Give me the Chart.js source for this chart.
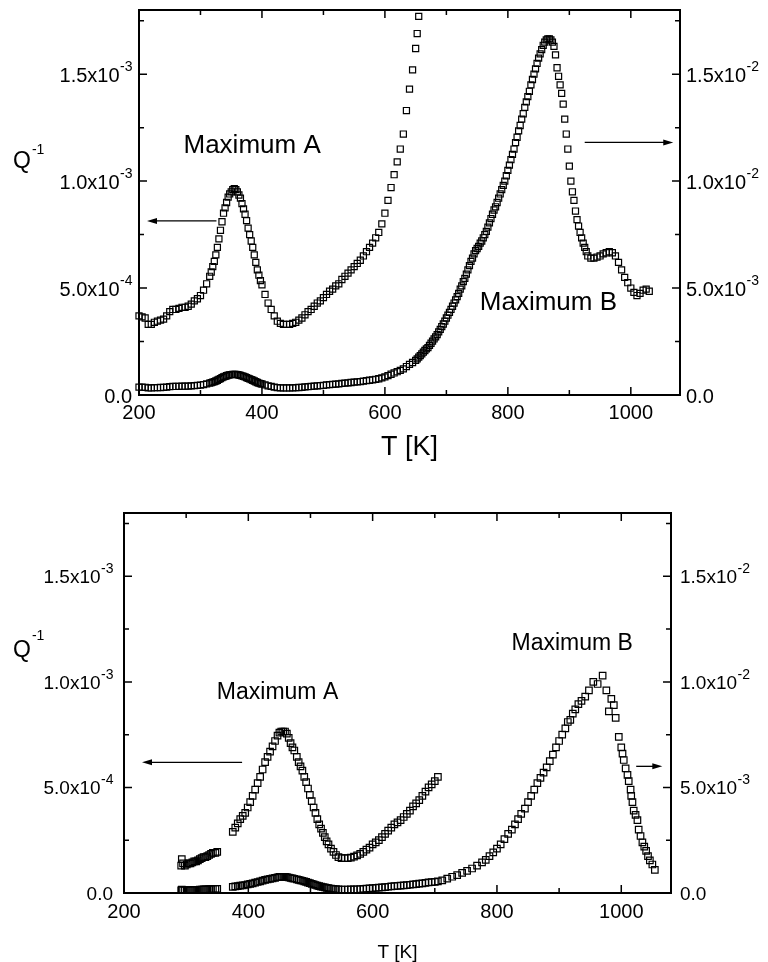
<!doctype html>
<html>
<head>
<title>Internal friction Q-1 versus temperature</title>
<script src="https://cdn.jsdelivr.net/npm/chart.js@4.4.0/dist/chart.umd.min.js"></script>
<style>
body { margin: 0; background: #fff; overflow: hidden; }
.panel { position: absolute; left: 0; }
#topPanel { top: 0; }
#bottomPanel { top: 480px; }
</style>
</head>
<body>
<div class="panel" id="topPanel"><canvas id="chartTop" width="768" height="475"></canvas></div>
<div class="panel" id="bottomPanel"><canvas id="chartBottom" width="768" height="482"></canvas></div>
<script>
// Temperatures in K, damping Q^-1 in units of 1e-3
var tempsTop = [
	200, 205, 210, 215, 220, 225, 230, 235, 240, 245, 250, 255, 260, 265, 270, 275, 280, 285, 290, 295,
	300, 305, 310, 315, 317.5, 320, 322.5, 325, 327.5, 330, 332.5, 335, 337.5, 340, 342.5, 345, 347.5, 350,
	352.5, 355, 357.5, 360, 362.5, 365, 367.5, 370, 372.5, 375, 377.5, 380, 382.5, 385, 387.5, 390, 392.5,
	395, 397.5, 400, 405, 410, 415, 420, 425, 430, 435, 440, 445, 450, 455, 460, 465, 470, 475, 480, 485,
	490, 495, 500, 505, 510, 515, 520, 525, 530, 535, 540, 545, 550, 555, 560, 565, 570, 575, 580, 585,
	590, 595, 600, 605, 610, 615, 620, 625, 630, 635, 640, 645, 650, 652.5, 655, 657.5, 660, 662.5, 665,
	667.5, 670, 672.5, 675, 677.5, 680, 682.5, 685, 687.5, 690, 692.5, 695, 697.5, 700, 702.5, 705, 707.5,
	710, 712.5, 715, 717.5, 720, 722.5, 725, 727.5, 730, 732.5, 735, 737.5, 740, 742.5, 745, 747.5, 750,
	752.5, 755, 757.5, 760, 762.5, 765, 767.5, 770, 772.5, 775, 777.5, 780, 782.5, 785, 787.5, 790, 792.5,
	795, 797.5, 800, 802.5, 805, 807.5, 810, 812.5, 815, 817.5, 820, 822.5, 825, 827.5, 830, 832.5, 835,
	837.5, 840, 842.5, 845, 847.5, 850, 852.5, 855, 857.5, 860, 862.5, 865, 867.5, 870, 872.5, 875, 877.5,
	880, 882.5, 885, 887.5, 890, 892.5, 895, 897.5, 900, 902.5, 905, 907.5, 910, 912.5, 915, 917.5, 920,
	922.5, 925, 927.5, 930, 935, 940, 945, 950, 955, 960, 965, 970, 975, 980, 985, 990, 995, 1000, 1005,
	1010, 1015, 1020, 1025, 1030
];
var qTop = [
	0.37, 0.365, 0.36, 0.33, 0.33, 0.34, 0.345, 0.35, 0.355, 0.37, 0.39, 0.40, 0.40, 0.405, 0.41, 0.41, 0.415, 0.425, 0.44, 0.45,
	0.465, 0.49, 0.52, 0.555, 0.575, 0.60, 0.625, 0.655, 0.69, 0.73, 0.77, 0.81, 0.85, 0.875, 0.90, 0.925, 0.94, 0.95,
	0.96, 0.965, 0.96, 0.95, 0.935, 0.92, 0.895, 0.87, 0.845, 0.815, 0.78, 0.75, 0.72, 0.69, 0.655, 0.62, 0.585,
	0.56, 0.535, 0.515, 0.47, 0.43, 0.40, 0.37, 0.345, 0.335, 0.33, 0.33, 0.33, 0.335, 0.34, 0.35, 0.36, 0.375, 0.39, 0.40, 0.415,
	0.43, 0.44, 0.455, 0.47, 0.485, 0.495, 0.51, 0.52, 0.54, 0.555, 0.57, 0.585, 0.60, 0.615, 0.63, 0.65, 0.67, 0.69, 0.71, 0.735,
	0.76, 0.80, 0.85, 0.91, 0.97, 1.03, 1.09, 1.15, 1.22, 1.33, 1.43, 1.52, 1.62, 1.69, 1.77, 1.84, 1.92, 2.0, 2.08,
	2.16, 2.22, 2.32, 2.42, 2.52, 2.62, 2.72, 2.82, 2.95, 3.07, 3.2, 3.32, 3.45, 3.6, 3.73, 3.86, 4.0,
	4.15, 4.3, 4.45, 4.6, 4.75, 4.95, 5.1, 5.3, 5.45, 5.65, 5.85, 6.05, 6.25, 6.4, 6.6, 6.75, 6.85,
	6.95, 7.1, 7.2, 7.35, 7.5, 7.65, 7.85, 8.05, 8.25, 8.45, 8.65, 8.8, 9.0, 9.2, 9.4, 9.6, 9.8,
	10.0, 10.25, 10.5, 10.75, 11.0, 11.25, 11.5, 11.8, 12.05, 12.35, 12.6, 12.9, 13.15, 13.45, 13.7, 13.95, 14.2,
	14.5, 14.75, 15.0, 15.25, 15.5, 15.75, 15.95, 16.15, 16.35, 16.5, 16.6, 16.65, 16.65, 16.6, 16.5, 16.3, 15.9,
	15.3, 14.9, 14.5, 14.1, 13.6, 12.9, 12.2, 11.5, 10.7, 10.0, 9.5, 9.1, 8.6, 8.2, 7.9, 7.6, 7.35,
	7.1, 6.9, 6.7, 6.5, 6.4, 6.4, 6.45, 6.5, 6.6, 6.65, 6.7, 6.65, 6.5, 6.2, 5.85, 5.5, 5.25, 5.0, 4.8,
	4.65, 4.75, 4.9, 4.95, 4.85
];

var tempsBottom = [
	292, 293, 295, 298, 301, 304, 307, 310, 313, 316, 319, 322, 325, 328, 331, 334, 337, 340, 343, 347, 350,
	375, 379, 383, 387, 391, 395, 399, 403, 407, 411, 415, 419, 423, 427, 431, 435, 439, 443, 447, 450, 453,
	456, 459, 462, 465, 468, 471, 474, 478, 481, 484, 487, 490, 493, 496, 499, 502, 505, 508, 511, 514, 517,
	520, 523, 526, 529, 533, 537, 541, 545, 550, 555, 560, 565, 570, 575, 580, 585, 590, 595, 600, 605, 610,
	615, 620, 625, 630, 635, 640, 645, 650, 655, 660, 665, 670, 675, 680, 685, 690, 695, 700, 705,
	712, 720, 728, 736, 744, 752, 760, 768, 776, 782, 788, 794, 800, 806, 812, 818, 824, 829, 834, 839, 845,
	850, 855, 860, 865, 870, 875, 880, 885, 890, 895, 900, 905, 910, 914, 918, 922, 926, 931, 936, 942, 948,
	955, 962, 970, 976, 980, 984, 988, 991, 996, 1000, 1002, 1004, 1007, 1010, 1012, 1015, 1016, 1018, 1020,
	1023, 1026, 1028, 1031, 1034, 1037, 1040, 1043, 1046, 1050, 1054
];
var qBottom = [
	0.13, 0.16, 0.14, 0.13, 0.135, 0.14, 0.14, 0.145, 0.15, 0.15, 0.155, 0.16, 0.165, 0.17, 0.17, 0.175, 0.18, 0.185, 0.19, 0.19, 0.195,
	0.29, 0.31, 0.33, 0.35, 0.365, 0.38, 0.405, 0.43, 0.46, 0.49, 0.52, 0.55, 0.585, 0.62, 0.645, 0.67, 0.695, 0.72, 0.745, 0.76, 0.765,
	0.765, 0.765, 0.755, 0.735, 0.71, 0.69, 0.675, 0.645, 0.62, 0.60, 0.58, 0.55, 0.525, 0.495, 0.465, 0.435, 0.405, 0.38, 0.35, 0.325, 0.305,
	0.285, 0.265, 0.245, 0.23, 0.21, 0.195, 0.18, 0.17, 0.165, 0.165, 0.165, 0.168, 0.172, 0.178, 0.185, 0.195, 0.205, 0.215, 0.23, 0.24, 0.25,
	0.265, 0.28, 0.295, 0.31, 0.325, 0.335, 0.345, 0.36, 0.375, 0.39, 0.41, 0.425, 0.44, 0.46, 0.48, 0.50, 0.515, 0.53, 0.55,
	0.60, 0.68, 0.77, 0.85, 0.95, 1.05, 1.16, 1.3, 1.45, 1.57, 1.75, 1.92, 2.1, 2.3, 2.55, 2.8, 3.0, 3.25, 3.5, 3.75, 4.0,
	4.3, 4.6, 4.9, 5.2, 5.45, 5.7, 5.95, 6.25, 6.55, 6.9, 7.2, 7.5, 7.8, 8.1, 8.2, 8.5, 8.7, 8.95, 9.1, 9.3, 9.6,
	10.0, 9.9, 10.3, 9.6, 8.6, 9.2, 8.9, 8.3, 7.4, 6.9, 6.6, 6.3, 5.9, 5.6, 5.3, 4.9, 4.6, 4.3, 3.9,
	3.7, 3.45, 3.0, 2.7, 2.4, 2.2, 2.0, 1.75, 1.55, 1.35, 1.1
];

// the left-axis copy of the lower run is shown only up to this temperature
var bottomLeftLimit = 705;

var FONT = '"Liberation Sans", Arial, Helvetica, sans-serif';

function toPoints(temps, q, limit) {
	var pts = [];
	for (var i = 0; i < temps.length; i++) {
		if (temps[i] <= limit) {
			pts.push({x: temps[i], y: q[i]});
		}
	}
	return pts;
}

// tick positions at half steps, every second one major
function tickMarks(scale) {
	var half = scale.options.ticks.stepSize / 2;
	var out = [];
	var n0 = Math.ceil(scale.min / half - 1e-9);
	var n1 = Math.floor(scale.max / half + 1e-9);
	for (var n = n0; n <= n1; n++) {
		out.push({v: n * half, major: n % 2 === 0});
	}
	return out;
}

// 0.0015 -> ['1.5x10', '-3']
function sciParts(real) {
	if (Math.abs(real) < 1e-12) {
		return ['0.0', ''];
	}
	var e = Math.floor(Math.log10(real) + 1e-9);
	var m = real / Math.pow(10, e);
	return [m.toFixed(1) + 'x10', String(e)];
}

function drawArrow(ctx, x1, x2, y) {
	var dir = x2 > x1 ? 1 : -1;
	ctx.beginPath();
	ctx.lineWidth = 1.3;
	ctx.moveTo(x1, y);
	ctx.lineTo(x2 - dir * 6, y);
	ctx.stroke();
	ctx.beginPath();
	ctx.moveTo(x2, y);
	ctx.lineTo(x2 - dir * 10, y - 3);
	ctx.lineTo(x2 - dir * 10, y + 3);
	ctx.closePath();
	ctx.fill();
}

var framePlugin = {
	id: 'frame',
	afterDraw: function(chart) {
		var o = chart.options.plugins.frame;
		var ctx = chart.ctx;
		var a = chart.chartArea;
		var xs = chart.scales.x, yL = chart.scales.yL, yR = chart.scales.yR;

		ctx.save();
		ctx.strokeStyle = '#000';
		ctx.fillStyle = '#000';

		// box and inward ticks
		ctx.lineWidth = 2;
		ctx.strokeRect(a.left, a.top, a.right - a.left, a.bottom - a.top);
		ctx.lineWidth = 1.5;
		ctx.beginPath();
		tickMarks(xs).forEach(function(t) {
			var p = xs.getPixelForValue(t.v);
			var len = t.major ? 8 : 5;
			ctx.moveTo(p, a.bottom);
			ctx.lineTo(p, a.bottom - len);
			ctx.moveTo(p, a.top);
			ctx.lineTo(p, a.top + len);
		});
		tickMarks(yL).forEach(function(t) {
			var p = yL.getPixelForValue(t.v);
			ctx.moveTo(a.left, p);
			ctx.lineTo(a.left + (t.major ? 8 : 5), p);
		});
		tickMarks(yR).forEach(function(t) {
			var p = yR.getPixelForValue(t.v);
			ctx.moveTo(a.right, p);
			ctx.lineTo(a.right - (t.major ? 8 : 5), p);
		});
		ctx.stroke();

		// y tick labels with raised exponents
		var mainFont = o.labelSize + 'px ' + FONT;
		var supFont = o.supSize + 'px ' + FONT;
		ctx.textBaseline = 'alphabetic';
		ctx.textAlign = 'left';
		[[yL, 'left'], [yR, 'right']].forEach(function(pair) {
			var scale = pair[0];
			tickMarks(scale).forEach(function(t) {
				if (!t.major) return;
				var parts = sciParts(t.v * 1e-3);
				var p = scale.getPixelForValue(t.v);
				ctx.font = mainFont;
				var w1 = ctx.measureText(parts[0]).width;
				ctx.font = supFont;
				var w2 = ctx.measureText(parts[1]).width;
				var x0 = pair[1] === 'left' ? a.left - o.gapLeft - w1 - w2 : a.right + o.gapRight;
				ctx.font = mainFont;
				ctx.fillText(parts[0], x0, p + o.mainDy);
				if (parts[1]) {
					ctx.font = supFont;
					ctx.fillText(parts[1], x0 + w1 + 0.5, p + o.supDy);
				}
			});
		});

		// Q^-1 axis name
		ctx.font = o.qSize + 'px ' + FONT;
		ctx.fillText('Q', o.qX, o.qBase);
		var qw = ctx.measureText('Q').width;
		ctx.font = o.qSupSize + 'px ' + FONT;
		ctx.fillText('-1', o.qX + qw + 1, o.qSupBase);

		// peak names and arrows pointing to the matching axis
		ctx.textAlign = 'center';
		ctx.textBaseline = 'middle';
		o.notes.forEach(function(n) {
			ctx.font = n.size + 'px ' + FONT;
			ctx.fillText(n.text, xs.getPixelForValue(n.x), yL.getPixelForValue(n.y));
		});
		o.arrows.forEach(function(ar) {
			drawArrow(ctx, xs.getPixelForValue(ar.from), xs.getPixelForValue(ar.to), yL.getPixelForValue(ar.y));
		});
		ctx.restore();
	}
};

function createConfig(c) {
	var marker = {
		type: 'scatter',
		showLine: false,
		pointStyle: 'rect',
		pointRadius: c.radius,
		pointHoverRadius: c.radius,
		borderColor: '#000',
		backgroundColor: 'rgba(255,255,255,0)',
		pointBorderWidth: 1.2,
		clip: 4
	};
	return {
		type: 'scatter',
		data: {
			datasets: [
				Object.assign({label: 'Q-1, left scale', yAxisID: 'yL', data: toPoints(c.temps, c.q, c.leftLimit)}, marker),
				Object.assign({label: 'Q-1, right scale', yAxisID: 'yR', data: toPoints(c.temps, c.q, Infinity)}, marker)
			]
		},
		options: {
			responsive: false,
			animation: false,
			events: [],
			layout: {padding: {top: c.padTop, left: 0, right: 0, bottom: 0}},
			plugins: {
				legend: {display: false},
				tooltip: {enabled: false},
				frame: c.frame
			},
			scales: {
				x: {
					type: 'linear',
					position: 'bottom',
					min: 200,
					max: 1080,
					afterFit: function(s) { s.height = c.xHeight; },
					grid: {display: false, drawTicks: false, tickLength: 0},
					border: {display: false},
					ticks: {
						stepSize: 200,
						includeBounds: false,
						padding: c.xTickPad,
						color: '#000',
						maxRotation: 0,
						autoSkip: false,
						font: {family: FONT, size: 20},
						callback: function(v) { return v % 200 === 0 ? String(v) : ''; }
					},
					title: {
						display: true,
						text: 'T [K]',
						color: '#000',
						font: {family: FONT, size: c.titleSize, lineHeight: 1},
						padding: {top: 0, bottom: c.titlePad}
					}
				},
				yL: {
					type: 'linear',
					position: 'left',
					min: 0,
					max: 1.8,
					afterFit: function(s) { s.width = c.leftWidth; },
					grid: {display: false},
					border: {display: false},
					ticks: {display: false, stepSize: 0.5}
				},
				yR: {
					type: 'linear',
					position: 'right',
					min: 0,
					max: 18,
					afterFit: function(s) { s.width = c.rightWidth; },
					grid: {display: false},
					border: {display: false},
					ticks: {display: false, stepSize: 5}
				}
			}
		},
		plugins: [framePlugin]
	};
}

window.onload = function() {
	new Chart(document.getElementById('chartTop'), createConfig({
		temps: tempsTop,
		q: qTop,
		leftLimit: Infinity,
		radius: 4.3,
		padTop: 10,
		leftWidth: 139,
		rightWidth: 88,
		xHeight: 80,
		xTickPad: 6,
		titleSize: 27,
		titlePad: 14,
		frame: {
			labelSize: 20, supSize: 14, gapLeft: 7, gapRight: 6, mainDy: 8, supDy: -3,
			qX: 13, qBase: 168, qSize: 23, qSupSize: 14, qSupBase: 154,
			notes: [
				{text: 'Maximum A', x: 384, y: 1.163, size: 26},
				{text: 'Maximum B', x: 866, y: 0.433, size: 26}
			],
			arrows: [
				{from: 326, to: 213, y: 0.814},
				{from: 925, to: 1069, y: 1.181}
			]
		}
	}));

	new Chart(document.getElementById('chartBottom'), createConfig({
		temps: tempsBottom,
		q: qBottom,
		leftLimit: bottomLeftLimit,
		radius: 4.6,
		padTop: 33,
		leftWidth: 124,
		rightWidth: 97,
		xHeight: 69,
		xTickPad: 7,
		titleSize: 19,
		titlePad: 0,
		frame: {
			labelSize: 19, supSize: 14, gapLeft: 11, gapRight: 9, mainDy: 7, supDy: -3,
			qX: 13, qBase: 177, qSize: 23, qSupSize: 14, qSupBase: 160,
			notes: [
				{text: 'Maximum A', x: 447, y: 0.948, size: 23},
				{text: 'Maximum B', x: 921, y: 1.18, size: 23}
			],
			arrows: [
				{from: 390, to: 229, y: 0.619},
				{from: 1024, to: 1066, y: 0.6}
			]
		}
	}));
};
</script>
</body>
</html>
